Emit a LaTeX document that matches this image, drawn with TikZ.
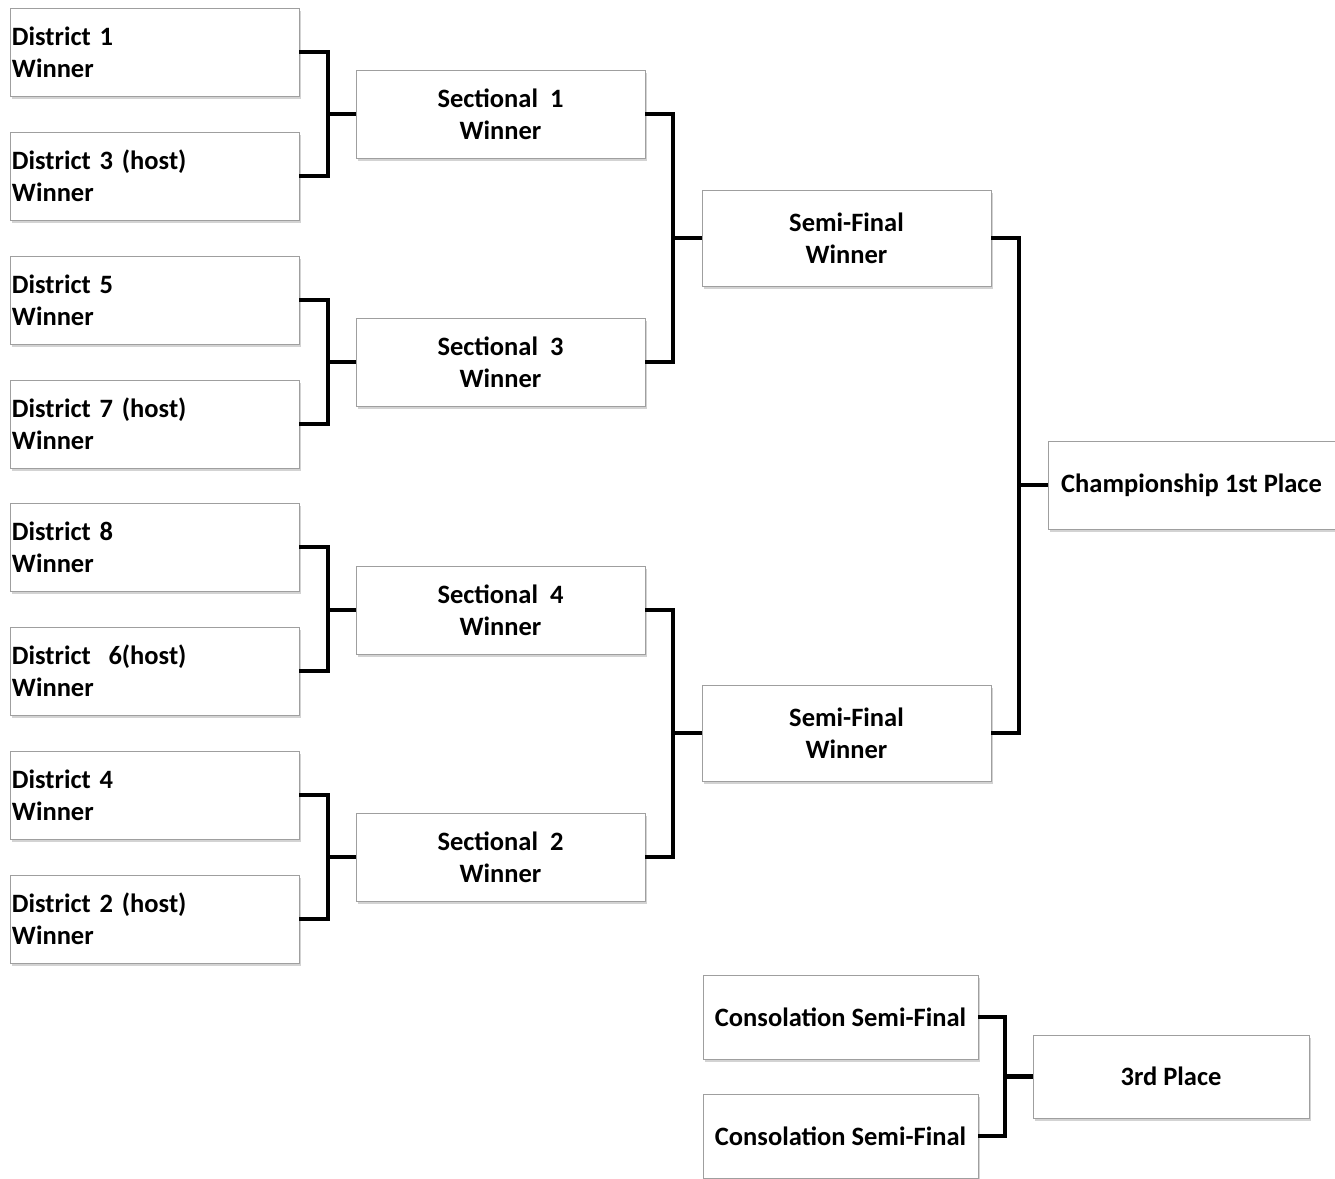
\documentclass[tikz,border=0pt]{standalone}
\usepackage{fontspec}
\setmainfont{Carlito}
\usetikzlibrary{shadows}
\tikzset{
  box/.style={draw=gray!75, line width=0.9pt, fill=white, inner sep=0pt,
    drop shadow={opacity=0.35, shadow xshift=1.5pt, shadow yshift=-2.5pt},
    font=\bfseries\fontsize{26.5}{32}\selectfont},
  dbox/.style={box, minimum width=289pt, minimum height=88pt, text width=285pt, align=left},
  sbox/.style={box, minimum width=289pt, minimum height=88pt, align=center},
  fbox/.style={box, minimum width=289pt, minimum height=96pt, align=center},
  link/.style={line width=4.5pt}
}
\begin{document}
\begin{tikzpicture}[x=1pt,y=-1pt]
\useasboundingbox (0,0) rectangle (1335,1178);
% districts
\node[dbox] (d1) at (154.5,52) {District 1\\Winner};
\node[dbox] (d3) at (154.5,176) {District 3 (host)\\Winner};
\node[dbox] (d5) at (154.5,300) {District 5\\Winner};
\node[dbox] (d7) at (154.5,424) {District 7 (host)\\Winner};
\node[dbox] (d8) at (154.5,547) {District 8\\Winner};
\node[dbox] (d6) at (154.5,671) {District~~6(host)\\Winner};
\node[dbox] (d4) at (154.5,795) {District 4\\Winner};
\node[dbox] (d2) at (154.5,919) {District 2 (host)\\Winner};
% sectionals
\node[sbox] (s1) at (500.5,114) {Sectional~~1\\Winner};
\node[sbox] (s3) at (500.5,362) {Sectional~~3\\Winner};
\node[sbox] (s4) at (500.5,610) {Sectional~~4\\Winner};
\node[sbox] (s2) at (500.5,857) {Sectional~~2\\Winner};
% semis
\node[fbox] (f1) at (846.5,238) {Semi-Final\\Winner};
\node[fbox] (f2) at (846.5,733) {Semi-Final\\Winner};
% championship
\node[box, minimum width=287pt, minimum height=88pt] (ch) at (1191.5,485) {Championship 1st Place};
% consolation
\node[box, minimum width=275pt, minimum height=84pt] (c1) at (840.5,1017) {Consolation Semi-Final};
\node[box, minimum width=275pt, minimum height=84pt] (c2) at (840.5,1136) {Consolation Semi-Final};
\node[box, minimum width=276pt, minimum height=83pt] (th) at (1171,1076.5) {3rd Place};
% junctions
\coordinate (j1) at (328,114);
\coordinate (j2) at (328,362);
\coordinate (j3) at (328,610);
\coordinate (j4) at (328,857);
\coordinate (j5) at (673,238);
\coordinate (j6) at (673,733);
\coordinate (j7) at (1019,485);
\coordinate (j8) at (1005,1076.5);
\draw[link] (d1.east) -| (j1) |- (d3.east); \draw[link] (j1) -- (s1.west);
\draw[link] (d5.east) -| (j2) |- (d7.east); \draw[link] (j2) -- (s3.west);
\draw[link] (d8.east) -| (j3) |- (d6.east); \draw[link] (j3) -- (s4.west);
\draw[link] (d4.east) -| (j4) |- (d2.east); \draw[link] (j4) -- (s2.west);
\draw[link] (s1.east) -| (j5) |- (s3.east); \draw[link] (j5) -- (f1.west);
\draw[link] (s4.east) -| (j6) |- (s2.east); \draw[link] (j6) -- (f2.west);
\draw[link] (f1.east) -| (j7) |- (f2.east); \draw[link] (j7) -- (ch.west);
\draw[link] (c1.east) -| (j8) |- (c2.east); \draw[link] (j8) -- (th.west);
\end{tikzpicture}
\end{document}
